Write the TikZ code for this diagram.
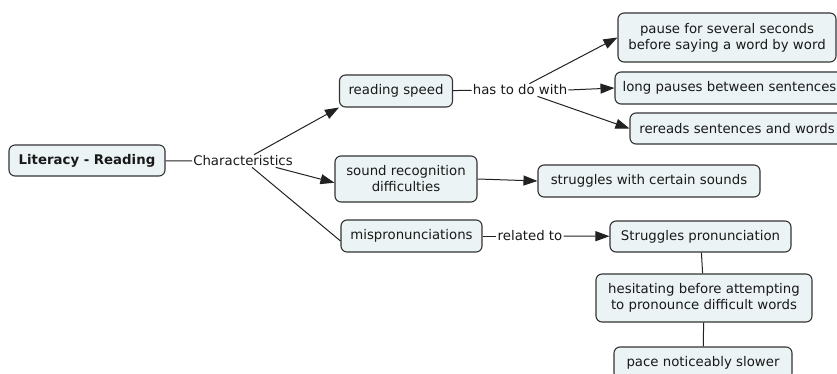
\documentclass[tikz,border=0pt]{standalone}
\usepackage{fontspec}
\setmainfont{DejaVu Sans}
\usetikzlibrary{arrows.meta}
\definecolor{boxfill}{HTML}{EBF3F5}
\definecolor{boxline}{HTML}{333333}
\definecolor{linkline}{HTML}{222222}
\tikzset{
  concept/.style={draw=boxline, fill=boxfill, line width=1.1pt, rounded corners=6pt,
    align=center, inner sep=2pt, font=\fontsize{13.3}{16}\selectfont, text=black!90},
  linklabel/.style={inner sep=1pt, font=\fontsize{13.3}{16}\selectfont, text=black!90},
  link/.style={draw=linkline, line width=1pt},
  arrowlink/.style={link, -{Triangle[length=14pt,width=10pt]}}
}
\begin{document}
\begin{tikzpicture}[x=1pt,y=-1pt]
\useasboundingbox (0,0) rectangle (837,374);
\clip (0,0) rectangle (837,374);
% concepts
\node[concept, minimum width=156pt, minimum height=31pt, font=\fontsize{13.3}{16}\selectfont\bfseries] (lit) at (87,160.5) {Literacy - Reading};
\node[concept, minimum width=113pt, minimum height=32pt] (rs) at (396,91) {reading speed};
\node[concept, minimum width=218pt, minimum height=49pt] (pause) at (727,37.5) {pause for several seconds\\before saying a word by word};
\node[concept, minimum width=229pt, minimum height=32pt] (long) at (729.5,88) {long pauses between sentences};
\node[concept, minimum width=214pt, minimum height=31pt] (rer) at (737,128.5) {rereads sentences and words};
\node[concept, minimum width=142pt, minimum height=46pt] (snd) at (406,179) {sound recognition\\difficulties};
\node[concept, minimum width=222pt, minimum height=32pt] (sws) at (649,181) {struggles with certain sounds};
\node[concept, minimum width=141pt, minimum height=32pt] (mis) at (411.5,236) {mispronunciations};
\node[concept, minimum width=181pt, minimum height=31pt] (sp) at (700.5,236.5) {Struggles pronunciation};
\node[concept, minimum width=216pt, minimum height=48pt] (hes) at (704,298) {hesitating before attempting\\to pronounce difficult words};
\node[concept, minimum width=178pt, minimum height=32pt] (pace) at (703,363) {pace noticeably slower};
% linking phrases
\node[linklabel] (char) at (243,161) {Characteristics};
\node[linklabel] (hdw) at (520,90) {has to do with};
\node[linklabel] (rel) at (530,236) {related to};
% connectors
\draw[link] (lit) -- (char);
\draw[arrowlink] (char.30) -- (rs.south west);
\draw[arrowlink] (char.-11) -- (snd.-177);
\draw[link] (char.-35) -- (mis.-176);
\draw[link] (rs) -- (hdw);
\draw[arrowlink] (hdw.34) -- (pause.west);
\draw[arrowlink] (hdw.east) -- (long.west);
\draw[arrowlink] (hdw.-20) -- (rer.west);
\draw[arrowlink] (snd.east) -- (sws.west);
\draw[link] (mis) -- (rel);
\draw[arrowlink] (rel) -- (sp);
\draw[link] (sp) -- (hes);
\draw[link] (hes) -- (pace);
\end{tikzpicture}
\end{document}
